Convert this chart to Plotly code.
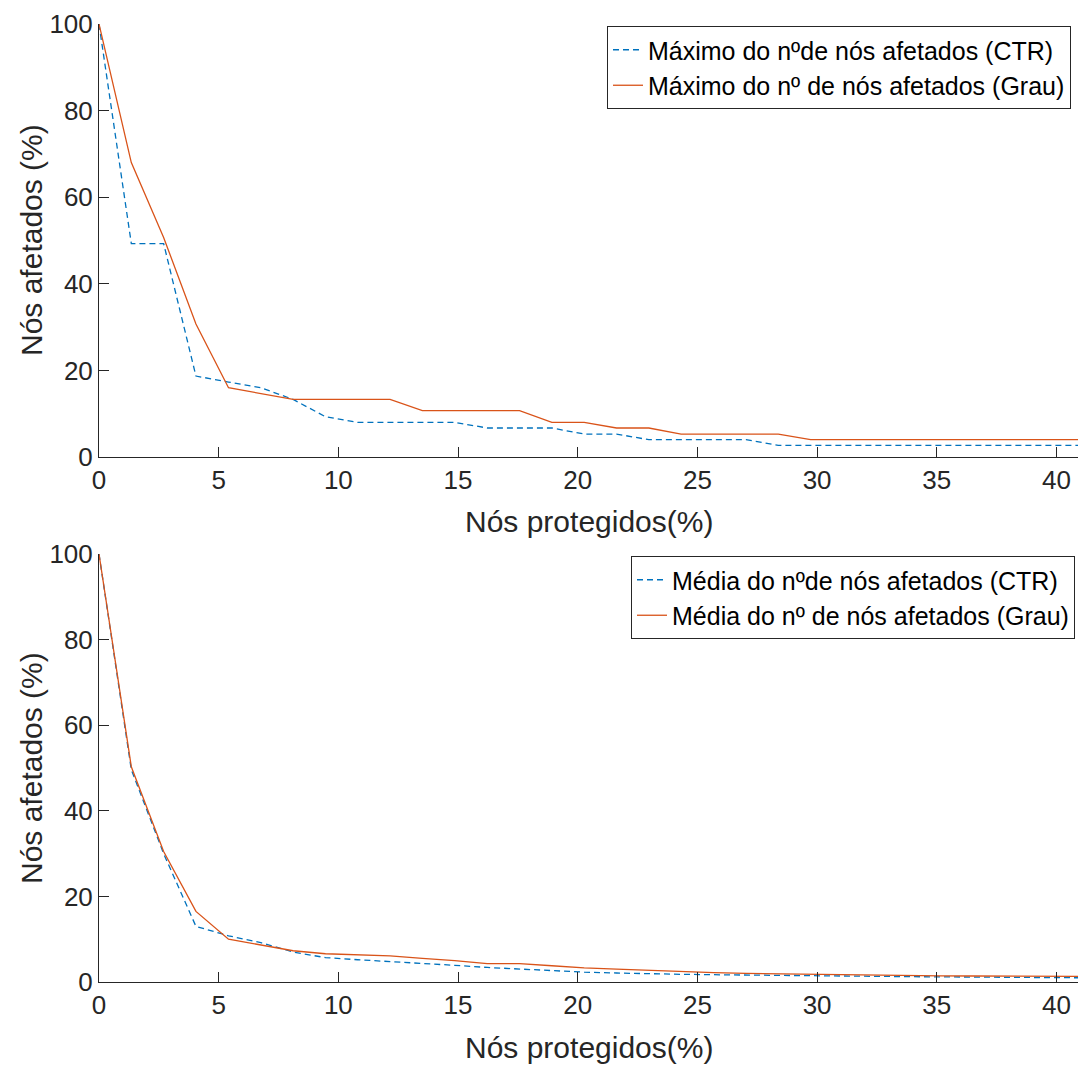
import plotly.graph_objects as go

# Percentage of protected nodes (x axis, shared by both panels)
protegidos = [0, 1.35, 2.70, 4.05, 5.41, 6.76, 8.11, 9.46, 10.81, 12.16, 13.51,
              14.86, 16.22, 17.57, 18.92, 20.27, 21.62, 22.97, 24.32, 25.68,
              27.03, 28.38, 29.73, 31.08, 32.43, 33.78, 35.14, 36.49, 37.84,
              39.19, 40.54, 41.89]

# Maximum of affected nodes (%)
max_ctr = [100, 49.3, 49.3, 18.7, 17.3, 16.0, 13.3, 9.3, 8.0, 8.0, 8.0, 8.0,
           6.7, 6.7, 6.7, 5.3, 5.3, 4.0, 4.0, 4.0, 4.0, 2.7, 2.7, 2.7, 2.7,
           2.7, 2.7, 2.7, 2.7, 2.7, 2.7, 2.7]
max_grau = [100, 68.0, 50.7, 30.7, 16.0, 14.7, 13.3, 13.3, 13.3, 13.3, 10.7,
            10.7, 10.7, 10.7, 8.0, 8.0, 6.7, 6.7, 5.3, 5.3, 5.3, 5.3, 4.0, 4.0,
            4.0, 4.0, 4.0, 4.0, 4.0, 4.0, 4.0, 4.0]

# Mean of affected nodes (%)
media_ctr = [100, 49.6, 30.0, 13.0, 10.8, 9.2, 7.0, 5.7, 5.2, 4.8, 4.3, 3.9,
             3.4, 3.0, 2.6, 2.3, 2.1, 1.9, 1.8, 1.7, 1.6, 1.5, 1.4, 1.35, 1.3,
             1.25, 1.2, 1.15, 1.1, 1.05, 1.0, 0.95]
media_grau = [100, 50.3, 30.5, 16.5, 10.0, 8.7, 7.3, 6.6, 6.3, 6.1, 5.5, 5.0,
              4.3, 4.3, 3.8, 3.3, 3.0, 2.7, 2.4, 2.2, 2.0, 1.9, 1.7, 1.6, 1.55,
              1.5, 1.45, 1.4, 1.4, 1.35, 1.35, 1.3]

x_ticks = [0, 5, 10, 15, 20, 25, 30, 35, 40]
y_ticks = [0, 20, 40, 60, 80, 100]

BLUE = "#0072BD"
ORANGE = "#D95319"
AXIS = "#262626"
FONT = "Liberation Sans"

W, H = 1078, 1066

fig = go.Figure()

fig.add_trace(go.Scatter(x=protegidos, y=max_ctr, mode="lines",
                         name="Máximo do nºde nós afetados (CTR)",
                         line=dict(color=BLUE, width=1.3, dash="6px,4px"),
                         xaxis="x", yaxis="y", legend="legend"))
fig.add_trace(go.Scatter(x=protegidos, y=max_grau, mode="lines",
                         name="Máximo do nº de nós afetados (Grau)",
                         line=dict(color=ORANGE, width=1.3),
                         xaxis="x", yaxis="y", legend="legend"))
fig.add_trace(go.Scatter(x=protegidos, y=media_ctr, mode="lines",
                         name="Média do nºde nós afetados (CTR)",
                         line=dict(color=BLUE, width=1.3, dash="6px,4px"),
                         xaxis="x2", yaxis="y2", legend="legend2"))
fig.add_trace(go.Scatter(x=protegidos, y=media_grau, mode="lines",
                         name="Média do nº de nós afetados (Grau)",
                         line=dict(color=ORANGE, width=1.3),
                         xaxis="x2", yaxis="y2", legend="legend2"))

x_dom = [99 / W, 1.0]
top_dom = [1 - 457 / H, 1 - 24 / H]
bot_dom = [1 - 982 / H, 1 - 554 / H]

xaxis_common = dict(range=[0, 40.9], tickvals=x_ticks, ticks="inside",
                    ticklen=10, tickwidth=1, tickcolor=AXIS, showline=True,
                    linecolor=AXIS, linewidth=1, showgrid=False, zeroline=False,
                    tickfont=dict(family=FONT, size=26, color=AXIS),
                    automargin=False, domain=x_dom)
yaxis_common = dict(range=[0, 100], tickvals=y_ticks, ticks="inside",
                    ticklen=10, tickwidth=1, tickcolor=AXIS, showline=True,
                    linecolor=AXIS, linewidth=1, showgrid=False, zeroline=False,
                    tickfont=dict(family=FONT, size=26, color=AXIS),
                    automargin=False)

legend_common = dict(font=dict(family=FONT, size=25, color="#000000"),
                     bgcolor="white", bordercolor=AXIS, borderwidth=1,
                     xanchor="right", yanchor="top", itemwidth=30,
                     tracegroupgap=0)

fig.update_layout(
    width=W, height=H,
    margin=dict(l=0, r=0, t=0, b=0),
    paper_bgcolor="white", plot_bgcolor="white",
    showlegend=True,
    xaxis=dict(**xaxis_common, anchor="y"),
    yaxis=dict(**yaxis_common, domain=top_dom, anchor="x"),
    xaxis2=dict(**xaxis_common, anchor="y2"),
    yaxis2=dict(**yaxis_common, domain=bot_dom, anchor="x2"),
    legend=dict(**legend_common, x=1071 / W, y=1 - 26 / H),
    legend2=dict(**legend_common, x=1075 / W, y=1 - 556 / H),
)

# Axis titles
title_font = dict(family=FONT, size=30, color=AXIS)
for cy_px in (521, 1047):
    fig.add_annotation(text="Nós protegidos(%)", xref="paper", yref="paper",
                       x=(99 + 1078) / 2 / W, y=1 - cy_px / H,
                       xanchor="center", yanchor="middle", showarrow=False,
                       font=title_font)
for cy_px in (240, 768):
    fig.add_annotation(text="Nós afetados (%)", xref="paper", yref="paper",
                       x=31 / W, y=1 - cy_px / H, textangle=-90,
                       xanchor="center", yanchor="middle", showarrow=False,
                       font=title_font)

fig.write_html("out.html")
